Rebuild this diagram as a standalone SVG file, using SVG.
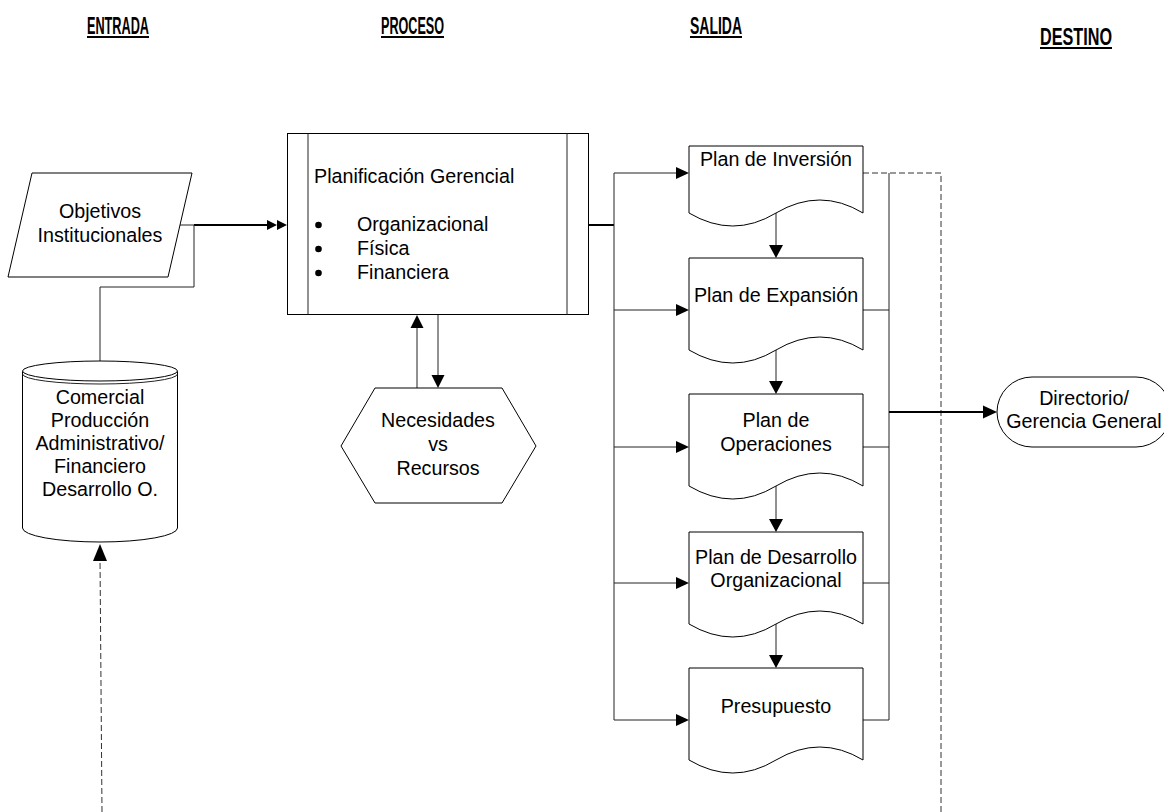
<svg xmlns="http://www.w3.org/2000/svg" width="1164" height="812" viewBox="0 0 1164 812">
  <style>
    .bg { fill: #ffffff; }
    .shape { fill: #ffffff; stroke: #000000; stroke-width: 1; }
    .t { font-family: "Liberation Sans", Arial, sans-serif; font-size: 19.7px; fill: #000000; text-anchor: middle; }
    .tl { font-family: "Liberation Sans", Arial, sans-serif; font-size: 19.7px; fill: #000000; }
    .hd { font-family: "Liberation Sans", Arial, sans-serif; font-size: 23px; font-weight: bold; fill: #000000; }
    .ul { stroke: #000000; stroke-width: 2; }
    .ln { fill: none; stroke: #222222; stroke-width: 1; }
    .lnb { fill: none; stroke: #000000; stroke-width: 2; }
    .dash { fill: none; stroke: #333333; stroke-width: 1; stroke-dasharray: 6 3; }
    .ah { fill: #000000; stroke: none; }
  </style>

  <rect class="bg" x="0" y="0" width="1164" height="812"/>

  <!-- column headings -->
  <g id="headings">
    <text class="hd" x="87" y="34" textLength="62" lengthAdjust="spacingAndGlyphs">ENTRADA</text>
    <line class="ul" x1="87" y1="37" x2="149" y2="37"/>
    <text class="hd" x="381" y="34" textLength="63" lengthAdjust="spacingAndGlyphs">PROCESO</text>
    <line class="ul" x1="381" y1="37" x2="444" y2="37"/>
    <text class="hd" x="690" y="34" textLength="52" lengthAdjust="spacingAndGlyphs">SALIDA</text>
    <line class="ul" x1="690" y1="37" x2="742" y2="37"/>
    <text class="hd" x="1040" y="45" textLength="72" lengthAdjust="spacingAndGlyphs">DESTINO</text>
    <line class="ul" x1="1040" y1="48" x2="1112" y2="48"/>
  </g>

  <!-- connectors -->
  <g id="connectors">
    <!-- objectives to planning, with branch down to the database -->
    <line class="ln" x1="180" y1="225" x2="194" y2="225"/>
    <line class="lnb" x1="194" y1="225" x2="268" y2="225"/>
    <polygon class="ah" points="267,220 277,225 267,230"/>
    <polygon class="ah" points="277,220 287,225 277,230"/>
    <polyline class="ln" points="194,225 194,287 100,287 100,361"/>

    <!-- dashed feedback into the database -->
    <line class="dash" x1="102" y1="812" x2="100" y2="558"/>
    <polygon class="ah" points="100,544 107,561 93,561"/>

    <!-- planning <-> needs vs resources -->
    <line class="ln" x1="417" y1="388" x2="417" y2="326"/>
    <polygon class="ah" points="417,315 423.5,328 410.5,328"/>
    <line class="ln" x1="438" y1="314" x2="438" y2="377"/>
    <polygon class="ah" points="438,388 444.5,375 431.5,375"/>

    <!-- planning to the output bus -->
    <line class="lnb" x1="588" y1="225" x2="614" y2="225"/>
    <line class="ln" x1="614" y1="173" x2="614" y2="720"/>
    <line class="ln" x1="614" y1="173" x2="678" y2="173"/>
    <polygon class="ah" points="689,173 676,167 676,179"/>
    <line class="ln" x1="614" y1="310" x2="678" y2="310"/>
    <polygon class="ah" points="689,310 676,304 676,316"/>
    <line class="ln" x1="614" y1="447" x2="678" y2="447"/>
    <polygon class="ah" points="689,447 676,441 676,453"/>
    <line class="ln" x1="614" y1="583" x2="678" y2="583"/>
    <polygon class="ah" points="689,583 676,577 676,589"/>
    <line class="ln" x1="614" y1="720" x2="678" y2="720"/>
    <polygon class="ah" points="689,720 676,714 676,726"/>

    <!-- document chain -->
    <line class="ln" x1="776" y1="213" x2="776" y2="247"/>
    <polygon class="ah" points="776,258 769,245 783,245"/>
    <line class="ln" x1="776" y1="350" x2="776" y2="384"/>
    <polygon class="ah" points="776,394 769,381 783,381"/>
    <line class="ln" x1="776" y1="486" x2="776" y2="521"/>
    <polygon class="ah" points="776,532 769,519 783,519"/>
    <line class="ln" x1="776" y1="624" x2="776" y2="657"/>
    <polygon class="ah" points="776,668 769,655 783,655"/>

    <!-- documents to the collector bus -->
    <line class="ln" x1="889" y1="173" x2="889" y2="720"/>
    <line class="ln" x1="863" y1="310" x2="889" y2="310"/>
    <line class="ln" x1="863" y1="447" x2="889" y2="447"/>
    <line class="ln" x1="863" y1="583" x2="889" y2="583"/>
    <line class="ln" x1="863" y1="720" x2="889" y2="720"/>

    <!-- dashed return path -->
    <polyline class="dash" points="863,173 941,173 941,812"/>

    <!-- collector bus to the board -->
    <line class="lnb" x1="889" y1="412" x2="985" y2="412"/>
    <polygon class="ah" points="997,412 983,405.5 983,418.5"/>
  </g>

  <!-- input: institutional objectives -->
  <g id="objetivos">
    <polygon class="shape" points="32,173 192,173 168,277 8,277"/>
    <text class="t" x="100" y="218">Objetivos</text>
    <text class="t" x="100" y="242">Institucionales</text>
  </g>

  <!-- input: departmental database -->
  <g id="departamentos">
    <path class="shape" d="M22.5,371 V528 A77.5,14 0 0 0 177.5,528 V371"/>
    <ellipse class="shape" cx="100" cy="371" rx="77.5" ry="10"/>
    <path class="ln" d="M22.5,374 A77.5,10 0 0 0 177.5,374"/>
    <text class="t" x="100" y="404">Comercial</text>
    <text class="t" x="100" y="427">Producción</text>
    <text class="t" x="100" y="450">Administrativo/</text>
    <text class="t" x="100" y="473">Financiero</text>
    <text class="t" x="100" y="496">Desarrollo O.</text>
  </g>

  <!-- process: management planning -->
  <g id="planificacion">
    <rect class="shape" x="287.5" y="133.5" width="301" height="181"/>
    <line class="ln" x1="308" y1="133.5" x2="308" y2="314.5"/>
    <line class="ln" x1="567" y1="133.5" x2="567" y2="314.5"/>
    <text class="tl" x="314" y="183">Planificación Gerencial</text>
    <circle class="ah" cx="318.5" cy="225" r="3.3"/>
    <circle class="ah" cx="318.5" cy="249" r="3.3"/>
    <circle class="ah" cx="318.5" cy="273" r="3.3"/>
    <text class="tl" x="357" y="231">Organizacional</text>
    <text class="tl" x="357" y="255">Física</text>
    <text class="tl" x="357" y="279">Financiera</text>
  </g>

  <!-- process: needs versus resources -->
  <g id="necesidades">
    <polygon class="shape" points="375,388 502,388 536,446 502,503 375,503 341,446"/>
    <text class="t" x="438" y="427">Necesidades</text>
    <text class="t" x="438" y="451">vs</text>
    <text class="t" x="438" y="475">Recursos</text>
  </g>

  <!-- output documents -->
  <g id="plan-inversion">
    <path class="shape" d="M689,146 H863 V213 Q820,187 776,213 Q733,239 689,213 Z"/>
    <text class="t" x="776" y="166">Plan de Inversión</text>
  </g>
  <g id="plan-expansion">
    <path class="shape" d="M689,258 H863 V350 Q820,324 776,350 Q733,376 689,350 Z"/>
    <text class="t" x="776" y="302">Plan de Expansión</text>
  </g>
  <g id="plan-operaciones">
    <path class="shape" d="M689,394 H863 V486 Q820,460 776,486 Q733,512 689,486 Z"/>
    <text class="t" x="776" y="427">Plan de</text>
    <text class="t" x="776" y="451">Operaciones</text>
  </g>
  <g id="plan-desarrollo">
    <path class="shape" d="M689,532 H863 V624 Q820,598 776,624 Q733,650 689,624 Z"/>
    <text class="t" x="776" y="564">Plan de Desarrollo</text>
    <text class="t" x="776" y="587">Organizacional</text>
  </g>
  <g id="presupuesto">
    <path class="shape" d="M689,668 H863 V760 Q820,734 776,760 Q733,786 689,760 Z"/>
    <text class="t" x="776" y="713">Presupuesto</text>
  </g>

  <!-- destination -->
  <g id="directorio">
    <rect class="shape" x="997" y="377" width="174" height="70" rx="35" ry="35"/>
    <text class="t" x="1084" y="405">Directorio/</text>
    <text class="t" x="1084" y="428">Gerencia General</text>
  </g>
</svg>
